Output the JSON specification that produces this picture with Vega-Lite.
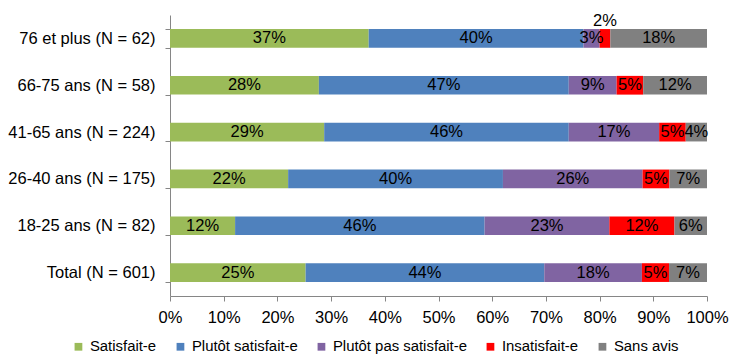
{
  "$schema": "https://vega.github.io/schema/vega-lite/v6.json",
  "autosize": {"type": "none"},
  "padding": {"left": 170, "top": 15, "right": 24, "bottom": 60},
  "width": 537,
  "height": 281,
  "config": {
    "font": "Liberation Sans",
    "view": {"stroke": null}
  },
  "data": {
    "values": [
      {"cat": "76 et plus (N = 62)", "resp": "Satisfait-e", "v": 37},
      {"cat": "76 et plus (N = 62)", "resp": "Plutôt satisfait-e", "v": 40},
      {"cat": "76 et plus (N = 62)", "resp": "Plutôt pas satisfait-e", "v": 3},
      {"cat": "76 et plus (N = 62)", "resp": "Insatisfait-e", "v": 2},
      {"cat": "76 et plus (N = 62)", "resp": "Sans avis", "v": 18},
      {"cat": "66-75 ans (N = 58)", "resp": "Satisfait-e", "v": 28},
      {"cat": "66-75 ans (N = 58)", "resp": "Plutôt satisfait-e", "v": 47},
      {"cat": "66-75 ans (N = 58)", "resp": "Plutôt pas satisfait-e", "v": 9},
      {"cat": "66-75 ans (N = 58)", "resp": "Insatisfait-e", "v": 5},
      {"cat": "66-75 ans (N = 58)", "resp": "Sans avis", "v": 12},
      {"cat": "41-65 ans (N = 224)", "resp": "Satisfait-e", "v": 29},
      {"cat": "41-65 ans (N = 224)", "resp": "Plutôt satisfait-e", "v": 46},
      {"cat": "41-65 ans (N = 224)", "resp": "Plutôt pas satisfait-e", "v": 17},
      {"cat": "41-65 ans (N = 224)", "resp": "Insatisfait-e", "v": 5},
      {"cat": "41-65 ans (N = 224)", "resp": "Sans avis", "v": 4},
      {"cat": "26-40 ans (N = 175)", "resp": "Satisfait-e", "v": 22},
      {"cat": "26-40 ans (N = 175)", "resp": "Plutôt satisfait-e", "v": 40},
      {"cat": "26-40 ans (N = 175)", "resp": "Plutôt pas satisfait-e", "v": 26},
      {"cat": "26-40 ans (N = 175)", "resp": "Insatisfait-e", "v": 5},
      {"cat": "26-40 ans (N = 175)", "resp": "Sans avis", "v": 7},
      {"cat": "18-25 ans (N = 82)", "resp": "Satisfait-e", "v": 12},
      {"cat": "18-25 ans (N = 82)", "resp": "Plutôt satisfait-e", "v": 46},
      {"cat": "18-25 ans (N = 82)", "resp": "Plutôt pas satisfait-e", "v": 23},
      {"cat": "18-25 ans (N = 82)", "resp": "Insatisfait-e", "v": 12},
      {"cat": "18-25 ans (N = 82)", "resp": "Sans avis", "v": 6},
      {"cat": "Total (N = 601)", "resp": "Satisfait-e", "v": 25},
      {"cat": "Total (N = 601)", "resp": "Plutôt satisfait-e", "v": 44},
      {"cat": "Total (N = 601)", "resp": "Plutôt pas satisfait-e", "v": 18},
      {"cat": "Total (N = 601)", "resp": "Insatisfait-e", "v": 5},
      {"cat": "Total (N = 601)", "resp": "Sans avis", "v": 7}
    ]
  },
  "transform": [
    {"calculate": "indexof(['Satisfait-e','Plutôt satisfait-e','Plutôt pas satisfait-e','Insatisfait-e','Sans avis'], datum.resp)", "as": "ord"},
    {"stack": "v", "groupby": ["cat"], "sort": [{"field": "ord"}], "offset": "normalize", "as": ["v0", "v1"]},
    {"calculate": "(datum.v0 + datum.v1) / 2", "as": "mid"},
    {"calculate": "datum.v + '%'", "as": "lbl"}
  ],
  "encoding": {
    "y": {
      "field": "cat",
      "type": "nominal",
      "sort": ["76 et plus (N = 62)", "66-75 ans (N = 58)", "41-65 ans (N = 224)", "26-40 ans (N = 175)", "18-25 ans (N = 82)", "Total (N = 601)"],
      "scale": {"paddingInner": 0.6, "paddingOuter": 0.3},
      "axis": {
        "title": null,
        "tickBand": "extent",
        "domainColor": "#868686",
        "tickColor": "#868686",
        "tickSize": 5,
        "labelPadding": 10,
        "labelFontSize": 16.5,
        "labelColor": "#000000",
        "labelFont": "Liberation Sans"
      }
    }
  },
  "layer": [
    {
      "mark": {"type": "bar"},
      "encoding": {
        "x": {
          "field": "v0",
          "type": "quantitative",
          "scale": {"domain": [0, 1], "nice": false},
          "axis": {
            "title": null,
            "format": ".0%",
            "values": [0, 0.1, 0.2, 0.3, 0.4, 0.5, 0.6, 0.7, 0.8, 0.9, 1],
            "grid": false,
            "domainColor": "#868686",
            "tickColor": "#868686",
            "tickSize": 5,
            "labelPadding": 8,
            "labelFontSize": 16.5,
            "labelColor": "#000000",
            "labelFont": "Liberation Sans",
            "labelFlush": false
          }
        },
        "x2": {"field": "v1"},
        "color": {
          "field": "resp",
          "type": "nominal",
          "sort": ["Satisfait-e", "Plutôt satisfait-e", "Plutôt pas satisfait-e", "Insatisfait-e", "Sans avis"],
          "scale": {
            "domain": ["Satisfait-e", "Plutôt satisfait-e", "Plutôt pas satisfait-e", "Insatisfait-e", "Sans avis"],
            "range": ["#9BBB59", "#4F81BD", "#8064A2", "#FF0000", "#808080"]
          },
          "legend": {
            "title": null,
            "orient": "none",
            "direction": "horizontal",
            "columns": 5,
            "legendX": -99,
            "legendY": 324,
            "symbolType": "square",
            "symbolSize": 60,
            "symbolStrokeWidth": 0,
            "labelFontSize": 14.9,
            "labelColor": "#000000",
            "labelFont": "Liberation Sans",
            "labelOffset": 4,
            "columnPadding": 16
          }
        }
      }
    },
    {
      "transform": [{"filter": "datum.v >= 3"}],
      "mark": {"type": "text", "fontSize": 16.5, "color": "#000000", "baseline": "middle", "align": "center"},
      "encoding": {
        "x": {"field": "mid", "type": "quantitative"},
        "text": {"field": "lbl"}
      }
    },
    {
      "transform": [{"filter": "datum.v < 3"}],
      "mark": {"type": "text", "fontSize": 16.5, "color": "#000000", "baseline": "middle", "align": "center", "dy": -17},
      "encoding": {
        "x": {"field": "mid", "type": "quantitative"},
        "text": {"field": "lbl"}
      }
    }
  ]
}
